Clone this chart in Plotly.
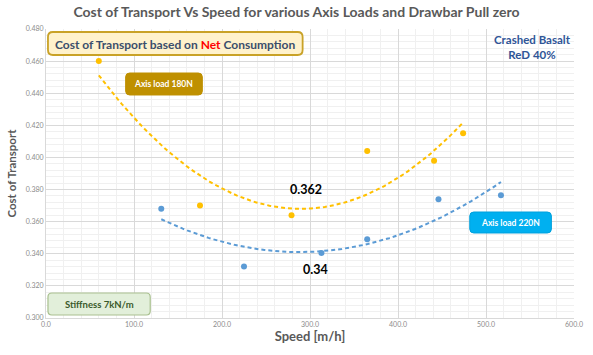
import numpy as np
import plotly.graph_objects as go

# Data
speed_180 = [60, 175, 279, 365, 441, 474]
cot_180 = [0.460, 0.370, 0.364, 0.404, 0.398, 0.415]
speed_220 = [131, 225, 313, 365, 446, 517]
cot_220 = [0.368, 0.332, 0.3405, 0.349, 0.374, 0.3765]
x_ticks = [0, 100, 200, 300, 400, 500, 600]
y_ticks = [0.30, 0.32, 0.34, 0.36, 0.38, 0.40, 0.42, 0.44, 0.46, 0.48]

YEL = "#FFC000"
BLU = "#5B9BD5"
GRAY = "#595959"
FONT = "Lato"

W, H = 593, 355
ML, MR, MT, MB = 46, 10, 29, 37
PW, PH = W - ML - MR, H - MT - MB

fig = go.Figure()

def trend(xs, ys):
    c = np.polyfit(xs, ys, 2)
    xx = np.linspace(min(xs), max(xs), 80)
    return xx, np.polyval(c, xx)

for xs, ys, col in [(speed_180, cot_180, YEL), (speed_220, cot_220, BLU)]:
    tx, ty = trend(xs, ys)
    fig.add_trace(go.Scatter(x=tx, y=ty, mode="lines",
                             line=dict(color=col, width=2, dash="4px,3px"),
                             hoverinfo="skip", showlegend=False))
    fig.add_trace(go.Scatter(x=xs, y=ys, mode="markers",
                             marker=dict(color=col, size=6), showlegend=False))

fig.update_layout(
    width=W, height=H,
    margin=dict(l=ML, r=MR, t=MT, b=MB),
    paper_bgcolor="white", plot_bgcolor="white",
    font=dict(family=FONT, color=GRAY),
    title=dict(text="<b>Cost of Transport Vs Speed for various Axis Loads and Drawbar Pull zero</b>",
               x=0.5, xanchor="center", y=0.965, yanchor="middle",
               font=dict(size=14, color=GRAY, family=FONT)),
    xaxis=dict(range=[0, 600], tickvals=x_ticks,
               ticktext=[f"{v:.1f}" for v in x_ticks],
               tickfont=dict(size=7, color="#8c8c8c"),
               showgrid=True, gridcolor="#d9d9d9", gridwidth=1,
               minor=dict(dtick=20, showgrid=True, gridcolor="#f0f0f0"),
               zeroline=False, showline=True, linecolor="#d9d9d9",
               title=dict(text="<b>Speed [m/h]</b>", font=dict(size=13, color=GRAY), standoff=4)),
    yaxis=dict(range=[0.30, 0.48], tickvals=y_ticks,
               ticktext=[f"{v:.3f}" for v in y_ticks],
               tickfont=dict(size=7, color="#8c8c8c"),
               showgrid=True, gridcolor="#d9d9d9", gridwidth=1,
               minor=dict(dtick=0.004, showgrid=True, gridcolor="#f0f0f0"),
               zeroline=False, showline=True, linecolor="#d9d9d9",
               title=dict(text="<b>Cost of Transport</b>", font=dict(size=11.5, color=GRAY), standoff=6)),
)

def px2paper(px, py):
    return (px - ML) / PW, (H - MB - py) / PH

def rrect(x0, y0, x1, y1, r, fill, line, lw):
    def P(x, y):
        a, b = px2paper(x, y)
        return f"{a:.5f},{b:.5f}"
    path = (f"M {P(x0 + r, y0)} L {P(x1 - r, y0)} Q {P(x1, y0)} {P(x1, y0 + r)} "
            f"L {P(x1, y1 - r)} Q {P(x1, y1)} {P(x1 - r, y1)} "
            f"L {P(x0 + r, y1)} Q {P(x0, y1)} {P(x0, y1 - r)} "
            f"L {P(x0, y0 + r)} Q {P(x0, y0)} {P(x0 + r, y0)} Z")
    fig.add_shape(type="path", path=path, xref="paper", yref="paper",
                  fillcolor=fill, line=dict(color=line, width=lw), layer="above")

def boxtext(x0, y0, x1, y1, text, size, color):
    cx, cy = px2paper((x0 + x1) / 2, (y0 + y1) / 2)
    fig.add_annotation(x=cx, y=cy, xref="paper", yref="paper", xanchor="center",
                       yanchor="middle", text=text, showarrow=False,
                       font=dict(size=size, color=color, family=FONT))

# Boxes
rrect(48, 32, 307, 55, 5, "#FFF2CC", "#C9A227", 1.8)
boxtext(48, 32, 307, 56, "<b>Cost of Transport based on <span style='color:#FF0000'>Net</span> Consumption</b>",
        12, "#3B4E6B")
rrect(127, 73, 205, 95, 4, "#BF9000", "#BF9000", 1)
boxtext(127, 73, 205, 96, "<b>Axis load 180N</b>", 8.5, "white")
rrect(477, 212, 560, 233, 4, "#00B0F0", "#00A0DC", 1)
boxtext(477, 212, 560, 234, "<b>Axis load 220N</b>", 8.5, "white")
rrect(48, 293, 152, 315, 4, "#E2EFDA", "#A9C08F", 1.2)
boxtext(48, 293, 152, 316, "<b>Stiffness 7kN/m</b>", 9.5, "#3A5A2B")

# Crashed Basalt label
cx, cy = px2paper(541, 47)
fig.add_annotation(x=cx, y=cy, xref="paper", yref="paper", xanchor="center", yanchor="middle",
                   text="<b>Crashed Basalt<br>ReD 40%</b>", align="center", showarrow=False,
                   font=dict(size=11.5, color="#2F5597", family=FONT))

fig.add_annotation(x=295, y=0.380, xanchor="center", yanchor="middle",
                   text="<b>0.362</b>", font=dict(size=12.5, color="#000000"), showarrow=False)
fig.add_annotation(x=306, y=0.330, xanchor="center", yanchor="middle",
                   text="<b>0.34</b>", font=dict(size=12.5, color="#000000"), showarrow=False)

fig.write_html("out.html")
